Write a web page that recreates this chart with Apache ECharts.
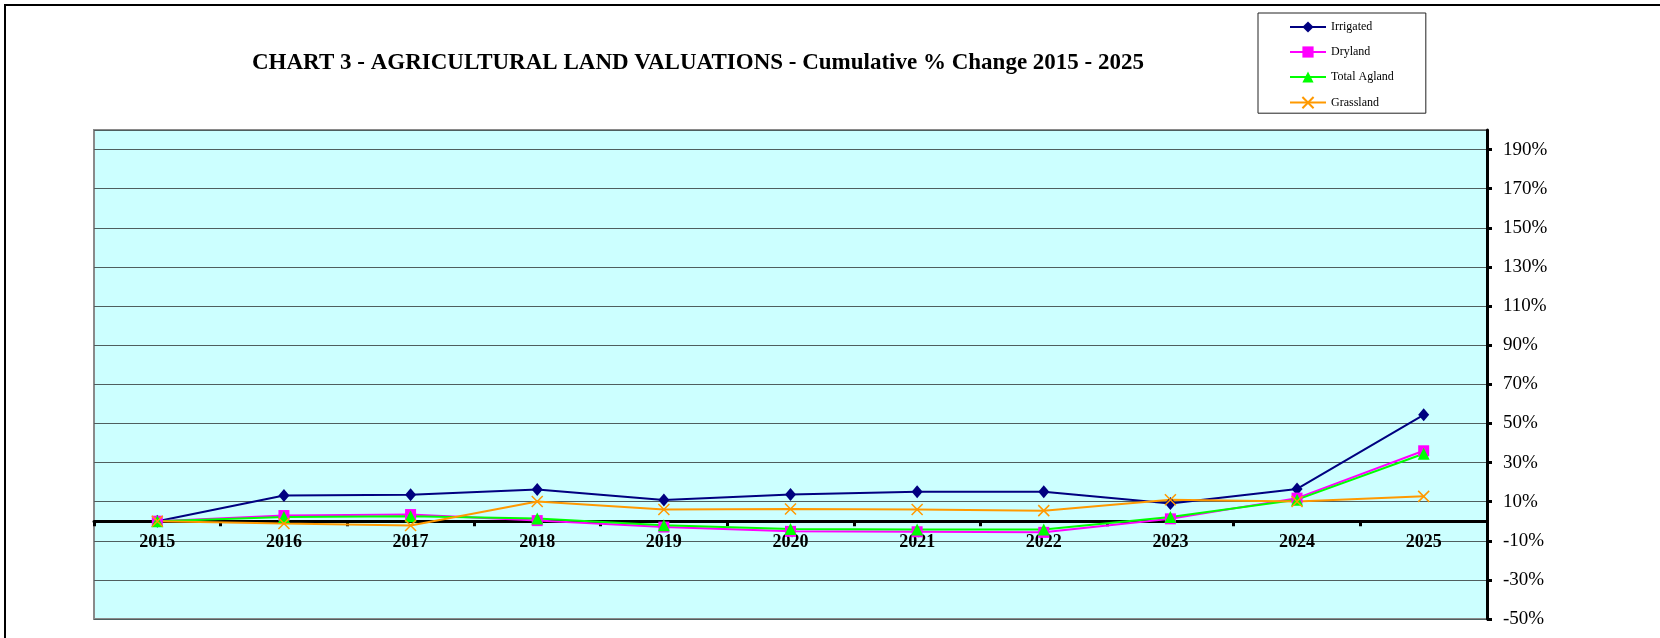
<!DOCTYPE html>
<html>
<head>
<meta charset="utf-8">
<title>Chart 3 - Agricultural Land Valuations</title>
<script src="https://cdn.jsdelivr.net/npm/echarts@6/dist/echarts.min.js"></script>
<style>
    html, body { margin: 0; padding: 0; background: #fff; }
    #main { width: 1660px; height: 638px; }
</style>
</head>
<body>
<div id="main"></div>
<script>
// categories
var years = ['2015', '2016', '2017', '2018', '2019', '2020', '2021', '2022', '2023', '2024', '2025'];

// cumulative % change
var irrigated = [0, 13.1, 13.5, 16.2, 10.8, 13.6, 15.0, 15.0, 9.0, 16.5, 54.4];
var dryland = [0, 2.9, 3.4, 0.3, -3.0, -5.2, -5.4, -5.7, 1.2, 11.8, 36.0];
var totalAgland = [0, 2.2, 2.5, 1.4, -2.1, -4.0, -4.3, -4.3, 2.2, 11.0, 34.5];
var grassland = [0, -1.2, -2.2, 10.1, 6.0, 6.2, 6.0, 5.4, 11.0, 10.1, 12.7];

// y axis range / step
var yMin = -50;
var yMax = 200;
var yStep = 20;

var serif = '"Liberation Serif", "Times New Roman", serif';
var xLabelGap = 12; // gap below the zero line

var chart = echarts.init(document.getElementById('main'));

function makeSeries(name, data, color, symbol, size) {
    return {
        name: name,
        type: 'line',
        data: data,
        symbol: symbol,
        symbolSize: size,
        showAllSymbol: true,
        lineStyle: { color: color, width: 2 },
        itemStyle: { color: color, borderColor: color, borderWidth: symbol.indexOf('path://') === 0 ? 1.5 : 0 },
        emphasis: { disabled: true },
        animation: false
    };
}

var option = {
    animation: false,
    backgroundColor: '#ffffff',
    textStyle: { fontFamily: serif },
    title: {
        text: 'CHART 3 - AGRICULTURAL LAND VALUATIONS - Cumulative % Change 2015 - 2025',
        left: 693,
        top: 47,
        textAlign: 'center',
        textStyle: { fontFamily: serif, fontSize: 23, fontWeight: 'bold', color: '#000' }
    },
    legend: {
        orient: 'vertical',
        left: 1258,
        top: 13,
        padding: [8, 32, 4, 31],
        itemWidth: 36,
        itemHeight: 14,
        itemGap: 13,
        borderColor: '#222',
        borderWidth: 1,
        backgroundColor: '#fff',
        textStyle: { fontFamily: serif, fontSize: 12, color: '#000' },
        data: ['Irrigated', 'Dryland', 'Total Agland', 'Grassland']
    },
    graphic: [{
        type: 'rect',
        shape: { x: 5, y: 5, width: 1700, height: 700 },
        style: { fill: 'none', stroke: '#000', lineWidth: 2 },
        silent: true
    }],
    grid: {
        left: 94,
        top: 130,
        right: 173,
        bottom: 19,
        containLabel: false,
        outerBoundsMode: 'none',
        show: true,
        backgroundColor: '#CCFFFF',
        borderColor: '#8a8a8a',
        borderWidth: 2
    },
    xAxis: {
        type: 'category',
        data: years,
        boundaryGap: true,
        axisLine: { onZero: true, lineStyle: { color: '#000', width: 3 } },
        axisTick: { show: true, length: 5, lineStyle: { color: '#000', width: 3 } },
        axisLabel: {
            margin: xLabelGap,
            fontFamily: serif,
            fontSize: 18,
            fontWeight: 'bold',
            color: '#000'
        },
        splitLine: { show: false }
    },
    yAxis: {
        type: 'value',
        position: 'right',
        min: yMin,
        max: yMax,
        interval: yStep,
        axisLine: { show: true, onZero: false, lineStyle: { color: '#000', width: 3 } },
        axisTick: { show: true, length: 5, lineStyle: { color: '#000', width: 3 } },
        axisLabel: {
            margin: 16,
            showMaxLabel: false,
            fontFamily: serif,
            fontSize: 19,
            color: '#000',
            formatter: function (v) {
                if (v >= yMax) return '';
                return v + '%';
            }
        },
        splitLine: { show: true, lineStyle: { color: '#4f5e5e', width: 1.2 } }
    },
    series: [
        makeSeries('Irrigated', irrigated, '#000080', 'diamond', [11, 13]),
        makeSeries('Dryland', dryland, '#FF00FF', 'rect', 11),
        makeSeries('Total Agland', totalAgland, '#00FF00', 'triangle', 12),
        makeSeries('Grassland', grassland, '#FF9900', 'path://M0,0L10,10M10,0L0,10', 11)
    ]
};

chart.setOption(option);

// year labels sit just under the zero line, not at the bottom of the plot
var zeroY = chart.convertToPixel({ yAxisIndex: 0 }, 0);
var bottomY = chart.convertToPixel({ yAxisIndex: 0 }, yMin);
chart.setOption({ xAxis: { axisLabel: { margin: xLabelGap - (bottomY - zeroY) } } });
</script>
</body>
</html>
